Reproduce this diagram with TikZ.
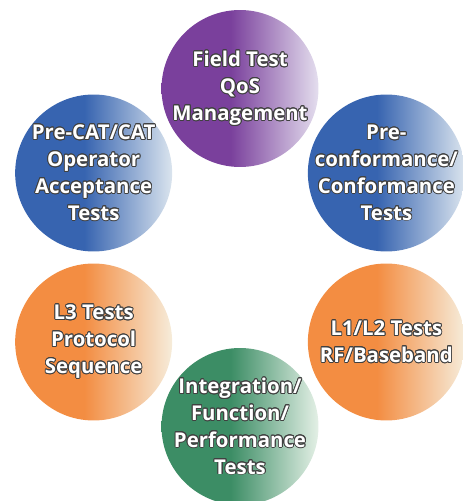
\documentclass[tikz,border=0pt]{standalone}
\usepackage{fontspec}
\setmainfont{Open Sans}
\usepackage[copies]{contour}
\contourlength{0.5pt}
\definecolor{purpA}{RGB}{122,64,156}
\definecolor{purpB}{RGB}{228,222,238}
\definecolor{blueA}{RGB}{55,100,176}
\definecolor{blueB}{RGB}{218,228,238}
\definecolor{orngA}{RGB}{243,141,66}
\definecolor{orngB}{RGB}{246,236,218}
\definecolor{grenA}{RGB}{60,141,101}
\definecolor{grenB}{RGB}{228,240,230}
\pgfdeclarehorizontalshading{purpleball}{100bp}{color(0bp)=(purpA); color(47bp)=(purpA); color(75bp)=(purpB); color(100bp)=(purpB)}
\pgfdeclarehorizontalshading{blueball}{100bp}{color(0bp)=(blueA); color(47bp)=(blueA); color(75bp)=(blueB); color(100bp)=(blueB)}
\pgfdeclarehorizontalshading{orangeball}{100bp}{color(0bp)=(orngA); color(47bp)=(orngA); color(75bp)=(orngB); color(100bp)=(orngB)}
\pgfdeclarehorizontalshading{greenball}{100bp}{color(0bp)=(grenA); color(47bp)=(grenA); color(75bp)=(grenB); color(100bp)=(grenB)}
\newcommand{\outl}[1]{\makebox[0pt]{\contour{black!75}{#1}}}
\begin{document}
\begin{tikzpicture}[x=0.02cm,y=0.02cm,
    ball/.style={circle, minimum size=3.14cm, inner sep=0pt, align=center,
      text=white, font=\bfseries\fontsize{11.6}{15.3}\selectfont}]
  \useasboundingbox[clip] (0,0) rectangle (463,501);
  \begin{scope}[shift={(240,243.5)}]
    \path
      (90:169) node[ball, shading=purpleball] (0) {\outl{Field Test}\\\outl{QoS}\\\outl{Management}}
      (30:169) node[ball, shading=blueball] (1) {\outl{Pre-}\\\outl{conformance/}\\\outl{Conformance}\\\outl{Tests}}
      (330:169) node[ball, shading=orangeball] (2) {\outl{L1/L2 Tests}\\\outl{RF/Baseband}}
      (270:169) node[ball, shading=greenball] (3) {\outl{Integration/}\\\outl{Function/}\\\outl{Performance}\\\outl{Tests}}
      (210:169) node[ball, shading=orangeball] (4) {\outl{L3 Tests}\\\outl{Protocol}\\\outl{Sequence}}
      (150:169) node[ball, shading=blueball] (5) {\outl{Pre-CAT/CAT}\\\outl{Operator}\\\outl{Acceptance}\\\outl{Tests}};
  \end{scope}
\end{tikzpicture}
\end{document}
